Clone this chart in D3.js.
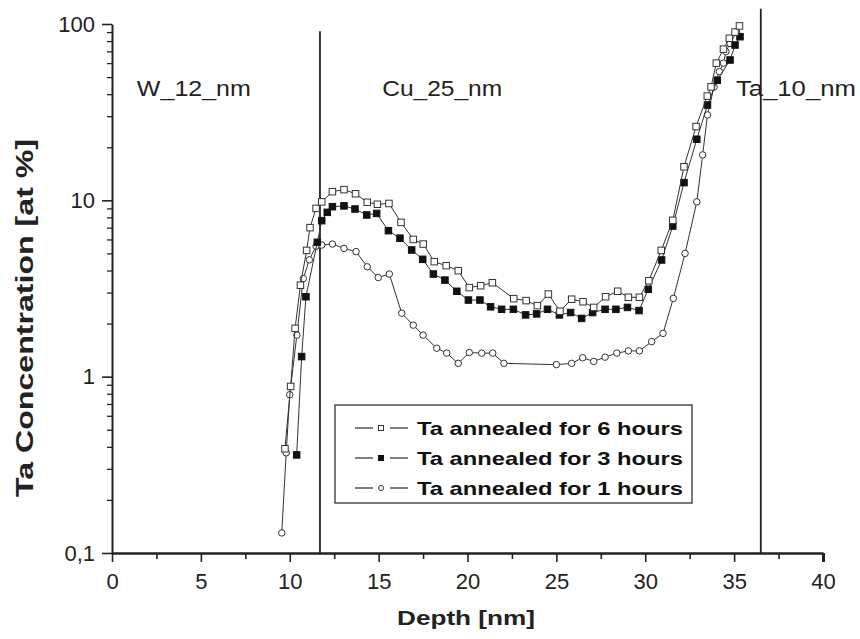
<!DOCTYPE html>
<html>
<head>
<meta charset="utf-8">
<script src="https://cdn.jsdelivr.net/npm/d3@7"></script>
<style>
  body { margin: 0; background: #fff; }
  svg { display: block; font-family: "Liberation Sans", Arial, sans-serif; }
</style>
</head>
<body>
<svg id="chart" width="860" height="639"></svg>
<script>
// depth [nm] and Ta concentration [at %]
var depth6h = [9.73, 10.05, 10.3, 10.6, 10.95, 11.14, 11.48, 11.8, 12.4, 13.05, 13.7, 14.36, 14.93, 15.58, 16.26, 16.95, 17.51, 18.13, 18.8, 19.48, 20.1, 20.74, 21.4, 22.6, 23.3, 23.93, 24.55, 25.2, 25.86, 26.5, 27.1, 27.77, 28.45, 29.05, 29.67, 30.2, 30.9, 31.55, 32.18, 32.86, 33.49, 33.7, 34.0, 34.4, 34.73, 35.05, 35.3]
var conc6h  = [0.39, 0.88, 1.88, 3.3, 5.2, 7.0, 9.0, 9.8, 11.2, 11.5, 10.9, 9.75, 9.5, 9.6, 7.5, 6.0, 5.65, 4.49, 4.26, 3.99, 3.2, 3.28, 3.41, 2.77, 2.7, 2.53, 2.94, 2.35, 2.75, 2.66, 2.47, 2.84, 3.05, 2.82, 2.82, 3.5, 5.2, 7.7, 15.5, 26.2, 39, 44, 60, 72, 83, 90, 97.5]

var depth3h = [10.39, 10.67, 10.91, 11.55, 11.8, 12.11, 12.4, 13.05, 13.67, 14.33, 14.89, 15.55, 16.2, 16.86, 17.48, 18.08, 18.73, 19.4, 20.05, 20.7, 21.3, 21.92, 22.58, 23.27, 23.89, 24.5, 25.17, 25.8, 26.42, 27.04, 27.74, 28.35, 29.0, 29.65, 30.17, 30.92, 31.55, 32.18, 32.9, 33.5, 34.05, 34.77, 35.05, 35.33]
var conc3h  = [0.36, 1.3, 2.84, 5.78, 7.67, 8.55, 9.2, 9.3, 8.93, 8.26, 8.43, 6.73, 6.1, 5.23, 4.63, 3.82, 3.53, 3.05, 2.72, 2.72, 2.49, 2.41, 2.41, 2.24, 2.27, 2.41, 2.24, 2.31, 2.14, 2.31, 2.41, 2.41, 2.47, 2.37, 3.13, 4.59, 7.15, 12.6, 22.2, 34.7, 48, 62.5, 76, 84.7]

var depth1h = [9.55, 9.8, 10.0, 10.4, 10.76, 11.1, 11.48, 11.8, 12.4, 13.05, 13.73, 14.36, 14.98, 15.6, 16.3, 16.95, 17.5, 18.27, 18.83, 19.48, 20.1, 20.8, 21.42, 22.05, 25.0, 25.86, 26.48, 27.1, 27.74, 28.4, 29.05, 29.67, 30.36, 31.0, 31.58, 32.24, 32.9, 33.23, 33.5, 33.87, 34.17, 34.4, 34.54, 34.77, 35.14]
var conc1h  = [0.13, 0.37, 0.79, 1.72, 3.6, 4.6, 5.5, 5.58, 5.65, 5.34, 5.12, 4.2, 3.65, 3.82, 2.29, 1.96, 1.72, 1.45, 1.36, 1.19, 1.37, 1.36, 1.36, 1.19, 1.17, 1.19, 1.28, 1.22, 1.29, 1.36, 1.4, 1.4, 1.58, 1.76, 2.78, 5.0, 9.8, 18.1, 30.5, 44, 53.7, 60, 69.7, 77.6, 90]

var seriesNames = ["Ta annealed for 6 hours", "Ta annealed for 3 hours", "Ta annealed for 1 hours"]
var seriesMarkers = ["openSquare", "filledSquare", "openCircle"]

// layer boundaries: [depth, top value of the line]
var boundaryDepth = [11.7, 36.5]
var boundaryTop = [91, 122]
var layerNames = ["W_12_nm", "Cu_25_nm", "Ta_10_nm"]
var layerDepth = [1.4, 15.2, 35.1]

var xTicks = [0, 5, 10, 15, 20, 25, 30, 35, 40]
var xMinorTicks = [2.5, 7.5, 12.5, 17.5, 22.5, 27.5, 32.5, 37.5]
var yTicks = [0.1, 1, 10, 100]
var yTickLabels = ["0,1", "1", "10", "100"]

var dim = {
    width: 860,
    height: 639,
    left: 112,
    right: 823,
    top: 24,
    bottom: 553
}

var svg = d3.select("#chart")

var x = d3.scaleLinear().domain([0, 40]).range([dim.left, dim.right])
var y = d3.scaleLog().domain([0.1, 100]).range([dim.bottom, dim.top])

var ink = "#222"

// y minor ticks 2..9 per decade
var yMinor = []
yTicks.slice(0, 3).forEach(function(d){
    for (var k = 2; k <= 9; k++) yMinor.push(d*k)
})

//y axis
svg.append("g")
    .attr("transform", `translate(${dim.left},0)`)
    .call(d3.axisLeft(y).tickValues(yMinor).tickSize(5).tickFormat("").tickSizeOuter(0))
    .call(g => g.select(".domain").remove())
    .call(g => g.selectAll("line").attr("stroke", ink).attr("stroke-width", 1.3))

svg.append("g")
    .attr("transform", `translate(${dim.left},0)`)
    .call(d3.axisLeft(y).tickValues(yTicks).tickSize(10).tickPadding(7).tickSizeOuter(0)
        .tickFormat((d, i) => yTickLabels[i]))
    .call(g => g.select(".domain").attr("stroke", ink).attr("stroke-width", 2))
    .call(g => g.selectAll("line").attr("stroke", ink).attr("stroke-width", 1.6))
    .call(g => g.selectAll("text").attr("font-size", 22).attr("fill", ink))

//x axis
svg.append("g")
    .attr("transform", `translate(0,${dim.bottom})`)
    .call(d3.axisBottom(x).tickValues(xMinorTicks).tickSize(6).tickFormat("").tickSizeOuter(0))
    .call(g => g.select(".domain").remove())
    .call(g => g.selectAll("line").attr("stroke", ink).attr("stroke-width", 1.6))

svg.append("g")
    .attr("transform", `translate(0,${dim.bottom})`)
    .call(d3.axisBottom(x).tickValues(xTicks).tickSize(9).tickPadding(11).tickSizeOuter(0))
    .call(g => g.select(".domain").attr("stroke", ink).attr("stroke-width", 2.5))
    .call(g => g.selectAll("line").attr("stroke", ink).attr("stroke-width", d => d === 40 ? 3 : 1.6))
    .call(g => g.selectAll("text").attr("font-size", 22).attr("fill", ink))

//axis titles
svg.append("text")
    .attr("x", 466)
    .attr("y", 625)
    .attr("text-anchor", "middle")
    .attr("font-size", 21)
    .attr("font-weight", "bold")
    .attr("fill", ink)
    .attr("textLength", 138)
    .attr("lengthAdjust", "spacingAndGlyphs")
    .text("Depth [nm]")

svg.append("text")
    .attr("transform", "translate(33,318) rotate(-90)")
    .attr("text-anchor", "middle")
    .attr("font-size", 23)
    .attr("font-weight", "bold")
    .attr("fill", ink)
    .attr("textLength", 358)
    .attr("lengthAdjust", "spacingAndGlyphs")
    .text("Ta Concentration [at %]")

//layer boundaries
svg.append("g")
    .selectAll("line")
    .data(boundaryDepth)
    .enter()
    .append("line")
    .attr("x1", d => x(d))
    .attr("x2", d => x(d))
    .attr("y1", (d, i) => y(boundaryTop[i]))
    .attr("y2", y(0.1))
    .attr("stroke", ink)
    .attr("stroke-width", 1.8)

var layerWidths = [114, 120, 120]
svg.append("g")
    .selectAll("text")
    .data(layerNames)
    .enter()
    .append("text")
    .attr("x", (d, i) => x(layerDepth[i]))
    .attr("y", 96)
    .attr("font-size", 22)
    .attr("fill", ink)
    .attr("textLength", (d, i) => layerWidths[i])
    .attr("lengthAdjust", "spacingAndGlyphs")
    .text(d => d)

//series
var series = [
    {depth: depth6h, conc: conc6h},
    {depth: depth3h, conc: conc3h},
    {depth: depth1h, conc: conc1h}
]

var line = d3.line()
    .x(d => x(d[0]))
    .y(d => y(d[1]))

function drawMarker(g, type, size){
    if (type === "openCircle") {
        g.append("circle")
            .attr("r", size/2)
            .attr("fill", "#fff")
            .attr("stroke", "#333")
            .attr("stroke-width", 1)
    } else {
        g.append("rect")
            .attr("x", -size/2)
            .attr("y", -size/2)
            .attr("width", size)
            .attr("height", size)
            .attr("fill", type === "filledSquare" ? "#111" : "#fff")
            .attr("stroke", type === "filledSquare" ? "#111" : "#333")
            .attr("stroke-width", 1)
    }
}

// draw 1h first, 6h on top
;[2, 1, 0].forEach(function(s){
    var pts = d3.zip(series[s].depth, series[s].conc)
    svg.append("path")
        .datum(pts)
        .attr("d", line)
        .attr("fill", "none")
        .attr("stroke", "#333")
        .attr("stroke-width", 1)

    svg.append("g")
        .selectAll("g")
        .data(pts)
        .enter()
        .append("g")
        .attr("transform", d => `translate(${x(d[0])},${y(d[1])})`)
        .each(function(){ drawMarker(d3.select(this), seriesMarkers[s], 6.5) })
})

//legend
var legend = svg.append("g")

legend.append("rect")
    .attr("x", 335)
    .attr("y", 405)
    .attr("width", 357)
    .attr("height", 98)
    .attr("fill", "#fff")
    .attr("stroke", "#333")
    .attr("stroke-width", 1.3)

var rows = legend.selectAll("g.row")
    .data(seriesNames)
    .enter()
    .append("g")
    .attr("class", "row")
    .attr("transform", (d, i) => `translate(0,${428 + i*30})`)

rows.append("line").attr("x1", 355).attr("x2", 373).attr("y1", 0).attr("y2", 0)
    .attr("stroke", "#555").attr("stroke-width", 1.5)
rows.append("line").attr("x1", 390).attr("x2", 408).attr("y1", 0).attr("y2", 0)
    .attr("stroke", "#555").attr("stroke-width", 1.5)
rows.append("g")
    .attr("transform", "translate(381,0)")
    .each(function(d, i){ drawMarker(d3.select(this), seriesMarkers[i], 5) })
rows.append("text")
    .attr("x", 417)
    .attr("y", 7)
    .attr("font-size", 19)
    .attr("font-weight", "bold")
    .attr("fill", "#111")
    .attr("textLength", 266)
    .attr("lengthAdjust", "spacingAndGlyphs")
    .text(d => d)
</script>
</body>
</html>
